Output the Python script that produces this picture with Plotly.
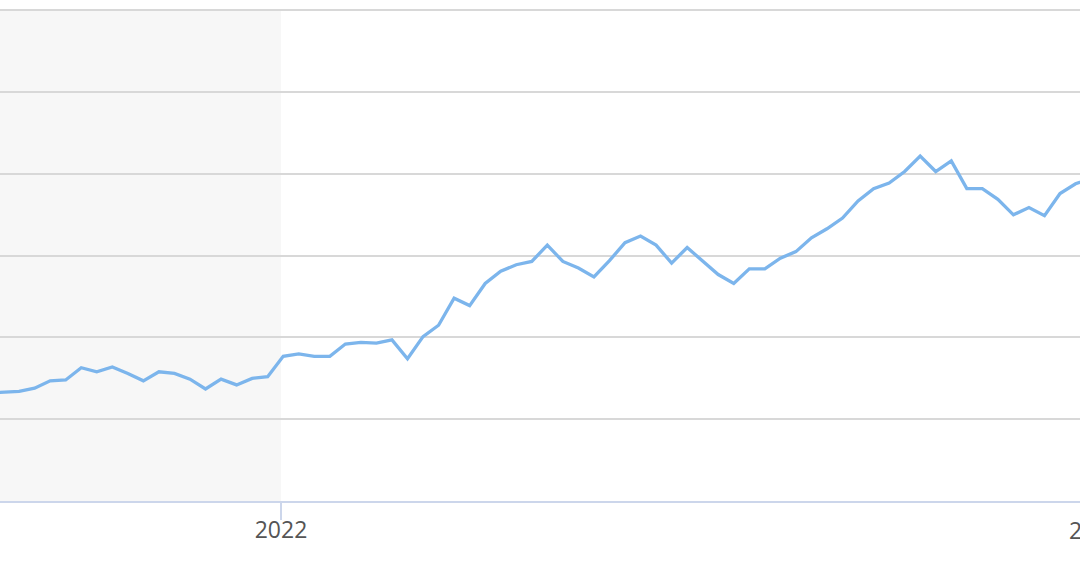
import plotly.graph_objects as go
import pandas as pd

# weekly observations, first one on 2021-08-22
START_DATE = "2021-08-22"
VALUES = [1.32, 1.33, 1.34, 1.38, 1.47, 1.48, 1.63, 1.58, 1.64, 1.56,
          1.47, 1.58, 1.56, 1.49, 1.37, 1.49, 1.42, 1.50, 1.52,
          1.77, 1.80, 1.77, 1.77, 1.92, 1.94, 1.93, 1.97, 1.74, 2.01,
          2.15, 2.48, 2.39, 2.66, 2.81, 2.89, 2.93, 3.13, 2.93, 2.85,
          2.74, 2.94, 3.16, 3.24, 3.13, 2.91, 3.10, 2.93, 2.77, 2.66,
          2.84, 2.84, 2.97, 3.05, 3.22, 3.33, 3.46, 3.67, 3.82, 3.89,
          4.03, 4.22, 4.03, 4.16, 3.82, 3.82, 3.69, 3.50, 3.59, 3.49,
          3.76, 3.88, 3.95]
DATES = pd.date_range(START_DATE, periods=len(VALUES), freq="7D")

TICK_DATES = ["2022-01-01", "2023-01-01"]
TICK_LABELS = ["2022", "2023"]

# visible window of the (cropped) chart
X_START = pd.Timestamp("2022-01-01") - pd.Timedelta(days=126.6)
X_END = pd.Timestamp("2022-01-01") + pd.Timedelta(days=360.0)
SHADE_END = "2022-01-01"

LINE_COLOR = "#7cb5ec"
GRID_COLOR = "#d8d8d8"
AXIS_COLOR = "#ccd6eb"
FONT = "Open Sans"

fig = go.Figure()
fig.add_trace(go.Scatter(x=DATES, y=VALUES, mode="lines",
                         line=dict(color=LINE_COLOR, width=3.3),
                         hoverinfo="x+y", showlegend=False))

fig.add_shape(type="rect", xref="x", yref="paper",
              x0=X_START - pd.Timedelta(days=30), x1=SHADE_END, y0=0, y1=6 / 6.03,
              fillcolor="#f7f7f7", line_width=0, layer="between")

span = (X_END - X_START).total_seconds()
frac_2023 = (pd.Timestamp(TICK_DATES[1]) - X_START).total_seconds() / span
fig.add_annotation(text=TICK_LABELS[1], xref="paper", yref="paper",
                   x=frac_2023, y=0, xanchor="center", yanchor="top",
                   xshift=4, yshift=-11, showarrow=False,
                   font=dict(family=FONT, size=23, color="#555555"))

fig.update_layout(
    width=1080, height=570,
    margin=dict(l=0, r=0, t=8, b=69),
    paper_bgcolor="white", plot_bgcolor="white",
    font=dict(family=FONT, size=23, color="#555555"),
)
fig.update_xaxes(range=[X_START, X_END], showgrid=False, zeroline=False,
                 showline=True, linecolor=AXIS_COLOR, linewidth=1.5,
                 tickvals=[TICK_DATES[0]], ticktext=[TICK_LABELS[0]],
                 ticks="outside", ticklen=17, tickcolor=AXIS_COLOR, tickwidth=1.5,
                 ticklabelstandoff=-9)
fig.update_yaxes(range=[0, 6.03], tick0=0, dtick=1, showticklabels=False,
                 showgrid=True, gridcolor=GRID_COLOR, gridwidth=1.5,
                 zeroline=False, showline=False)

fig.write_html("out.html", config={"displayModeBar": False},
               post_script="document.body.style.margin='0';")
